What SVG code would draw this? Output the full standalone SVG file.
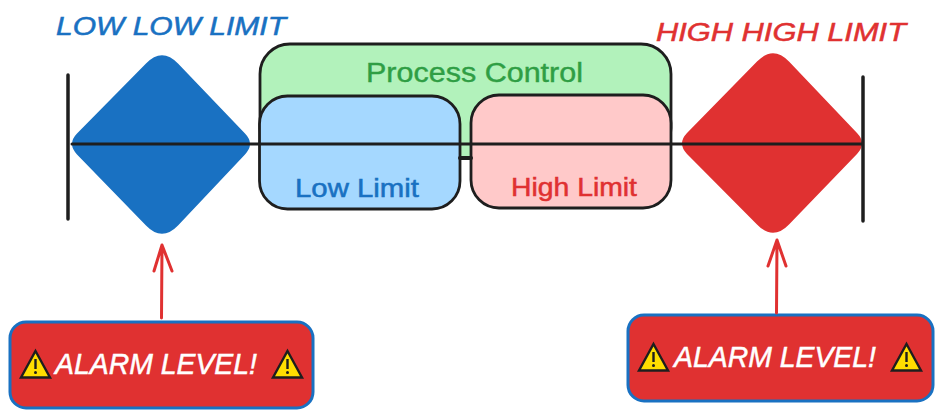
<svg xmlns="http://www.w3.org/2000/svg" width="941" height="418" viewBox="0 0 941 418">
<style>
text{font-family:"Liberation Sans","Noto Sans",sans-serif}
.box{stroke:#1e1e1e;stroke-width:2.8}
.lab{font-size:27px;stroke-width:.4}
.cap{font-size:25px;stroke-width:.5}
.slant{font-style:italic}
.green{fill:#2f9e44;stroke:#2f9e44}
.blue{fill:#1971c2;stroke:#1971c2}
.red{fill:#e03131;stroke:#e03131}
.alarm{fill:#e03131;stroke:#1971c2;stroke-width:3}
.atext{fill:#fff;font-size:29px;font-style:italic;stroke:#fff;stroke-width:.5}
.wt{fill:#ffdd00;stroke:#1e1e1e;stroke-width:2.400;stroke-linejoin:miter}
.wm{fill:#1e1e1e}
.ln{stroke:#1e1e1e;fill:none;stroke-linecap:round}
.ar{stroke:#e03131;stroke-width:3;fill:none;stroke-linecap:round;stroke-linejoin:round}
</style>
<rect width="941" height="418" fill="#fff"/>
<g id="process-control">
<rect class="box" x="260" y="44" width="411" height="114" rx="30" fill="#b2f2bb"/>
<text class="lab green" x="366" y="82" textLength="217" lengthAdjust="spacingAndGlyphs">Process Control</text>
</g>
<g id="low-limit">
<rect class="box" x="259.500" y="96" width="200.500" height="113" rx="28" fill="#a5d8ff"/>
<text class="cap blue" x="295" y="197" textLength="124" lengthAdjust="spacingAndGlyphs">Low Limit</text>
</g>
<g id="high-limit">
<rect class="box" x="471" y="95" width="200" height="113" rx="28" fill="#ffc9c9"/>
<text class="cap red" x="511" y="196" textLength="126" lengthAdjust="spacingAndGlyphs">High Limit</text>
</g>
<g id="low-low-limit">
<path fill="#1971c2" d="M146 63.600Q162 47 178 63.600L245 133.600Q255 144 245 154.400L178 225.400Q162 242 146 225.400L77 154.400Q67 144 77 133.600Z"/>
<text class="cap blue slant" x="56" y="35" textLength="230" lengthAdjust="spacingAndGlyphs">LOW LOW LIMIT</text>
</g>
<g id="high-high-limit">
<path fill="#e03131" d="M757 61.600Q773 45 789 61.600L857 133.100Q867 143.500 857 153.900L789 224.400Q773 241 757 224.400L687 153.900Q677 143.500 687 133.100Z"/>
<text class="cap red slant" x="656" y="41" textLength="250" lengthAdjust="spacingAndGlyphs">HIGH HIGH LIMIT</text>
</g>
<g id="alarm-left">
<rect class="alarm" x="10" y="322" width="303" height="86" rx="16"/>
<path class="wt" d="M35.500 351L50 377.500H21Z"/>
<rect class="wm" x="34.300" y="359" width="2.400" height="10"/><circle class="wm" cx="35.500" cy="372.500" r="1.500"/>
<text class="atext" x="55" y="374" textLength="202" lengthAdjust="spacingAndGlyphs">ALARM LEVEL!</text>
<path class="wt" d="M287.500 351L302 377.500H273Z"/>
<rect class="wm" x="286.300" y="359" width="2.400" height="10"/><circle class="wm" cx="287.500" cy="372.500" r="1.500"/>
</g>
<g id="alarm-right">
<rect class="alarm" x="628" y="315" width="305" height="86" rx="16"/>
<path class="wt" d="M653.500 344L668 370.500H639Z"/>
<rect class="wm" x="652.300" y="352" width="2.400" height="10"/><circle class="wm" cx="653.500" cy="365.500" r="1.500"/>
<text class="atext" x="674" y="367" textLength="202" lengthAdjust="spacingAndGlyphs">ALARM LEVEL!</text>
<path class="wt" d="M906.500 344L921 370.500H892Z"/>
<rect class="wm" x="905.300" y="352" width="2.400" height="10"/><circle class="wm" cx="906.500" cy="365.500" r="1.500"/>
</g>
<g id="connectors">
<path class="ln" stroke-width="3" d="M72 144H862"/>
<path class="ln" stroke-width="3.500" d="M68 75V219"/>
<path class="ln" stroke-width="3.500" d="M863 77V221"/>
<path class="ln" stroke-width="4" d="M460 158H471"/>
<path class="ar" d="M161.500 318L162 245M154 271L162 245L172 271"/>
<path class="ar" d="M776.500 313L777 240M768 266L777 240L786 266"/>
</g>
</svg>
